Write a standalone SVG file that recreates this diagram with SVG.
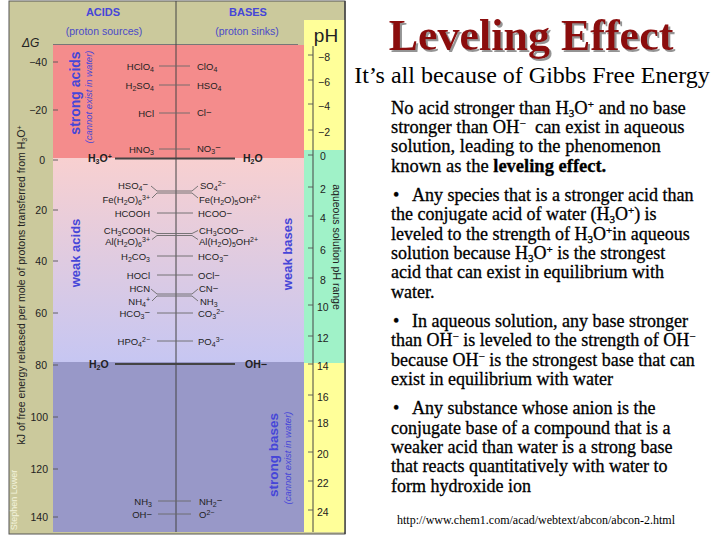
<svg xmlns="http://www.w3.org/2000/svg" width="720" height="540" viewBox="0 0 720 540">
<style>
.ch{font-family:"Liberation Sans",Arial,sans-serif;font-size:9.5px;fill:#222}
.ax{font-family:"Liberation Sans",Arial,sans-serif;font-size:10.5px;fill:#222}
.bl{font-family:"Liberation Sans",Arial,sans-serif;font-weight:bold;fill:#4646d8}
.it{font-family:"Liberation Sans",Arial,sans-serif;font-style:italic;font-size:9.5px;fill:#4646d8}
.wk{font-family:"Liberation Sans",Arial,sans-serif;font-weight:bold;font-size:10.5px;fill:#222}
.sb{font-size:7px;baseline-shift:-2px}
.sp{font-size:7px;baseline-shift:3.5px}
.ln{stroke:#6a6a6a;stroke-width:0.9;fill:none}
.tk{stroke:#555;stroke-width:0.9}
.wl{stroke:#444;stroke-width:2.2}
.body{font-family:"Liberation Serif","Times New Roman",serif;font-size:18px;fill:#000;stroke:#000;stroke-width:0.3}
.p1{font-size:18.5px}
.bsb{font-size:11px;baseline-shift:-3px}
.bsp{font-size:11px;baseline-shift:6px}
</style>
<defs>
<linearGradient id="weak" x1="0" y1="0" x2="0" y2="1">
<stop offset="0" stop-color="#f8d0d0"/>
<stop offset="1" stop-color="#c6c6f2"/>
</linearGradient>
<filter id="shadow" x="-5%" y="-10%" width="115%" height="130%">
<feDropShadow dx="2" dy="2" stdDeviation="0.6" flood-color="#888" flood-opacity="0.9"/>
</filter>
</defs>
<rect width="720" height="540" fill="#fff"/>

<g id="chart">
<rect x="9" y="1" width="336" height="533" fill="#cbc99c" stroke="#555" stroke-width="1"/>
<rect x="53" y="45" width="251" height="113" fill="#f48c8c"/>
<rect x="53" y="158" width="251" height="204" fill="url(#weak)"/>
<rect x="53" y="362" width="251" height="170" fill="#9898c8"/>
<line x1="53" y1="44.5" x2="298" y2="44.5" stroke="#777" stroke-width="1"/>
<rect x="304" y="20" width="41" height="130" fill="#ffff99"/>
<rect x="304" y="150" width="41" height="213" fill="#a0f2c8"/>
<rect x="304" y="363" width="41" height="169" fill="#ffff99"/>
<line x1="176" y1="1" x2="176" y2="532" stroke="#444" stroke-width="1"/>
<line x1="313" y1="46" x2="313" y2="532" stroke="#444" stroke-width="1"/>
<line x1="345" y1="1" x2="345" y2="534" stroke="#444" stroke-width="1.5"/>
</g>

<g id="headers">
<text class="bl" x="103" y="16" text-anchor="middle" font-size="11">ACIDS</text>
<text class="ax" x="104" y="35" text-anchor="middle" font-size="10" style="fill:#4a4ac8">(proton sources)</text>
<text class="bl" x="248" y="16" text-anchor="middle" font-size="11">BASES</text>
<text class="ax" x="247" y="35" text-anchor="middle" font-size="10" style="fill:#4a4ac8">(proton sinks)</text>
<text x="22" y="47" font-family="Liberation Sans,Arial,sans-serif" font-size="12" font-style="italic" fill="#222">ΔG</text>
<text x="326" y="42" font-family="Liberation Sans,Arial,sans-serif" font-size="19" fill="#222" text-anchor="middle">pH</text>
</g>

<g id="dg-axis">
<g class="tk">
<line x1="53" y1="62" x2="58" y2="62"/><line x1="53" y1="110" x2="58" y2="110"/>
<line x1="53" y1="160" x2="58" y2="160"/><line x1="53" y1="210" x2="58" y2="210"/>
<line x1="53" y1="261" x2="58" y2="261"/><line x1="53" y1="313" x2="58" y2="313"/>
<line x1="53" y1="365" x2="58" y2="365"/><line x1="53" y1="417" x2="58" y2="417"/>
<line x1="53" y1="469" x2="58" y2="469"/><line x1="53" y1="517" x2="58" y2="517"/>
</g>
<g class="ax" text-anchor="end">
<text x="47" y="66">−40</text><text x="47" y="114">−20</text><text x="45" y="164">0</text>
<text x="47" y="214">20</text><text x="47" y="265">40</text><text x="47" y="317">60</text>
<text x="47" y="369">80</text><text x="48" y="421">100</text><text x="48" y="473">120</text><text x="48" y="521">140</text>
</g>
<text class="ax" transform="translate(25,285) rotate(-90)" text-anchor="middle" font-size="8.6">kJ of free energy released per mole of protons transferred from H<tspan class="sb">3</tspan>O<tspan class="sp">+</tspan></text>
<text transform="translate(17,500) rotate(-90)" text-anchor="middle" font-family="Liberation Sans,Arial,sans-serif" font-size="9" fill="#f4f4dc">Stephen Lower</text>
</g>

<g id="ph-axis">
<g class="tk">
<line x1="308" y1="55" x2="313" y2="55"/><line x1="308" y1="80" x2="313" y2="80"/>
<line x1="308" y1="104" x2="313" y2="104"/><line x1="308" y1="130" x2="313" y2="130"/>
<line x1="308" y1="155" x2="313" y2="155"/><line x1="308" y1="187" x2="313" y2="187"/>
<line x1="308" y1="216" x2="313" y2="216"/><line x1="308" y1="248" x2="313" y2="248"/>
<line x1="308" y1="278" x2="313" y2="278"/><line x1="308" y1="305" x2="313" y2="305"/>
<line x1="308" y1="336" x2="313" y2="336"/><line x1="308" y1="364" x2="313" y2="364"/>
<line x1="308" y1="395" x2="313" y2="395"/><line x1="308" y1="421" x2="313" y2="421"/>
<line x1="308" y1="452" x2="313" y2="452"/><line x1="308" y1="481" x2="313" y2="481"/>
<line x1="308" y1="510" x2="313" y2="510"/>
</g>
<g class="ax" font-size="10">
<text x="318" y="61">−8</text><text x="318" y="86">−6</text><text x="318" y="110">−4</text>
<text x="318" y="136">−2</text><text x="320" y="160">0</text><text x="320" y="193">2</text>
<text x="320" y="222">4</text><text x="320" y="254">6</text><text x="320" y="284">8</text>
<text x="317" y="311">10</text><text x="317" y="342">12</text><text x="317" y="370">14</text>
<text x="317" y="401">16</text><text x="317" y="427">18</text><text x="317" y="458">20</text>
<text x="317" y="487">22</text><text x="317" y="516">24</text>
</g>
<text class="ax" transform="translate(333,247) rotate(90)" text-anchor="middle" font-size="10">aqueous solution pH range</text>
</g>

<g id="region-labels">
<text class="bl" transform="translate(80,93) rotate(-90)" text-anchor="middle" font-size="14">strong acids</text>
<text class="it" transform="translate(92,97) rotate(-90)" text-anchor="middle">(cannot exist in water)</text>
<text class="bl" transform="translate(80,253) rotate(-90)" text-anchor="middle" font-size="13">weak acids</text>
<text class="bl" transform="translate(292,254) rotate(-90)" text-anchor="middle" font-size="13">weak bases</text>
<text class="bl" transform="translate(278,455) rotate(-90)" text-anchor="middle" font-size="13.5">strong bases</text>
<text class="it" transform="translate(291,458) rotate(-90)" text-anchor="middle">(cannot exist in water)</text>
</g>

<g id="connectors">
<line class="ln" x1="159" y1="66" x2="190" y2="66"/>
<line class="ln" x1="159" y1="85" x2="190" y2="85"/>
<line class="ln" x1="159" y1="113" x2="190" y2="113"/>
<line class="ln" x1="159" y1="149" x2="190" y2="149"/>
<line class="wl" x1="115" y1="158.5" x2="235" y2="158.5"/>
<polyline class="ln" points="151,186 157,191 192,191 198,186"/>
<polyline class="ln" points="152,198 157,193 192,193 198,198"/>
<line class="ln" x1="157" y1="213" x2="193" y2="213"/>
<polyline class="ln" points="151,230.5 157,233.5 192,233.5 198,230.5"/>
<polyline class="ln" points="152,239.5 157,235.5 192,235.5 198,239.5"/>
<line class="ln" x1="157" y1="256" x2="193" y2="256"/>
<line class="ln" x1="157" y1="275" x2="193" y2="275"/>
<polyline class="ln" points="151,289 157,294 192,294 198,289"/>
<polyline class="ln" points="152,301 157,296 192,296 198,301"/>
<line class="ln" x1="157" y1="313" x2="193" y2="313"/>
<line class="ln" x1="157" y1="341" x2="193" y2="341"/>
<line class="wl" x1="115" y1="364" x2="235" y2="364"/>
<line class="ln" x1="158" y1="501" x2="191" y2="501"/>
<line class="ln" x1="158" y1="514" x2="191" y2="514"/>
</g>

<g id="acids" class="ch" text-anchor="end">
<text x="154" y="70">HClO<tspan class="sb">4</tspan></text>
<text x="154" y="89">H<tspan class="sb">2</tspan>SO<tspan class="sb">4</tspan></text>
<text x="154" y="117">HCl</text>
<text x="154" y="153">HNO<tspan class="sb">3</tspan></text>
<text x="148" y="189">HSO<tspan class="sb">4</tspan><tspan dy="-1">−</tspan></text>
<text x="150" y="203">Fe(H<tspan class="sb">2</tspan>O)<tspan class="sb">6</tspan><tspan class="sp">3+</tspan></text>
<text x="150" y="217">HCOOH</text>
<text x="150" y="233.5">CH<tspan class="sb">3</tspan>COOH</text>
<text x="150" y="244.5">Al(H<tspan class="sb">2</tspan>O)<tspan class="sb">6</tspan><tspan class="sp">3+</tspan></text>
<text x="150" y="260">H<tspan class="sb">2</tspan>CO<tspan class="sb">3</tspan></text>
<text x="150" y="279">HOCl</text>
<text x="150" y="292">HCN</text>
<text x="150" y="305">NH<tspan class="sb">4</tspan><tspan class="sp">+</tspan></text>
<text x="150" y="317">HCO<tspan class="sb">3</tspan><tspan dy="-1">−</tspan></text>
<text x="150" y="345">HPO<tspan class="sb">4</tspan><tspan class="sp">2−</tspan></text>
<text x="152" y="505">NH<tspan class="sb">3</tspan></text>
<text x="152" y="518">OH−</text>
</g>

<g id="bases" class="ch">
<text x="197" y="70">ClO<tspan class="sb">4</tspan></text>
<text x="197" y="89">HSO<tspan class="sb">4</tspan></text>
<text x="197" y="116">Cl−</text>
<text x="197" y="152">NO<tspan class="sb">3</tspan><tspan dy="-1">−</tspan></text>
<text x="200" y="189">SO<tspan class="sb">4</tspan><tspan class="sp">2−</tspan></text>
<text x="199" y="203">Fe(H<tspan class="sb">2</tspan>O)<tspan class="sb">5</tspan>OH<tspan class="sp">2+</tspan></text>
<text x="198" y="217">HCOO−</text>
<text x="199" y="233.5">CH<tspan class="sb">3</tspan>COO−</text>
<text x="199" y="244.5">Al(H<tspan class="sb">2</tspan>O)<tspan class="sb">5</tspan>OH<tspan class="sp">2+</tspan></text>
<text x="198" y="260">HCO<tspan class="sb">3</tspan><tspan dy="-1">−</tspan></text>
<text x="198" y="279">OCl−</text>
<text x="199" y="292">CN−</text>
<text x="200" y="305">NH<tspan class="sb">3</tspan></text>
<text x="198" y="317">CO<tspan class="sb">3</tspan><tspan class="sp">2−</tspan></text>
<text x="198" y="345">PO<tspan class="sb">4</tspan><tspan class="sp">3−</tspan></text>
<text x="199" y="505">NH<tspan class="sb">2</tspan><tspan dy="-1">−</tspan></text>
<text x="199" y="518">O<tspan class="sp">2−</tspan></text>
</g>

<g id="water-species" class="wk">
<text x="88" y="162">H<tspan class="sb">3</tspan>O<tspan class="sp">+</tspan></text>
<text x="243" y="162">H<tspan class="sb">2</tspan>O</text>
<text x="89" y="368">H<tspan class="sb">2</tspan>O</text>
<text x="245" y="368">OH−</text>
</g>

<g id="title">
<text x="531" y="50" text-anchor="middle" font-family="Liberation Serif,'Times New Roman',serif" font-weight="bold" font-size="44" fill="#8b0e0e" filter="url(#shadow)">Leveling Effect</text>
<text x="532" y="83" text-anchor="middle" font-family="Liberation Serif,'Times New Roman',serif" font-size="24" fill="#000">It’s all because of Gibbs Free Energy</text>
</g>

<g id="body" class="body">
<text class="p1" x="391" y="114">No acid stronger than H<tspan class="bsb">3</tspan>O<tspan class="bsp">+</tspan> and no base</text>
<text class="p1" x="391" y="133" xml:space="preserve">stronger than OH<tspan class="bsp">−</tspan>  can exist in aqueous</text>
<text class="p1" x="391" y="152">solution, leading to the phenomenon</text>
<text class="p1" x="391" y="172">known as the <tspan font-weight="bold">leveling effect.</tspan></text>

<text x="393" y="201">•<tspan x="412">Any species that is a stronger acid than</tspan></text>
<text x="391" y="220">the conjugate acid of water (H<tspan class="bsb">3</tspan>O<tspan class="bsp">+</tspan>) is</text>
<text x="391" y="240">leveled to the strength of H<tspan class="bsb">3</tspan>O<tspan class="bsp">+</tspan>in aqueous</text>
<text x="391" y="259">solution because H<tspan class="bsb">3</tspan>O<tspan class="bsp">+</tspan> is the strongest</text>
<text x="391" y="278">acid that can exist in equilibrium with</text>
<text x="391" y="298">water.</text>

<text x="393" y="327">•<tspan x="412">In aqueous solution, any base stronger</tspan></text>
<text x="391" y="346">than OH<tspan class="bsp">−</tspan> is leveled to the strength of OH<tspan class="bsp">−</tspan></text>
<text x="391" y="366">because OH<tspan class="bsp">−</tspan> is the strongest base that can</text>
<text x="391" y="385">exist in equilibrium with water</text>

<text x="393" y="414">•<tspan x="412">Any substance whose anion is the</tspan></text>
<text x="391" y="434">conjugate base of a compound that is a</text>
<text x="391" y="453">weaker acid than water is a strong base</text>
<text x="391" y="472">that reacts quantitatively with water to</text>
<text x="391" y="492">form hydroxide ion</text>
</g>
<text x="397" y="524" font-family="Liberation Serif,'Times New Roman',serif" font-size="11.5" fill="#000" textLength="278" lengthAdjust="spacingAndGlyphs">http://www.chem1.com/acad/webtext/abcon/abcon-2.html</text>
</svg>
